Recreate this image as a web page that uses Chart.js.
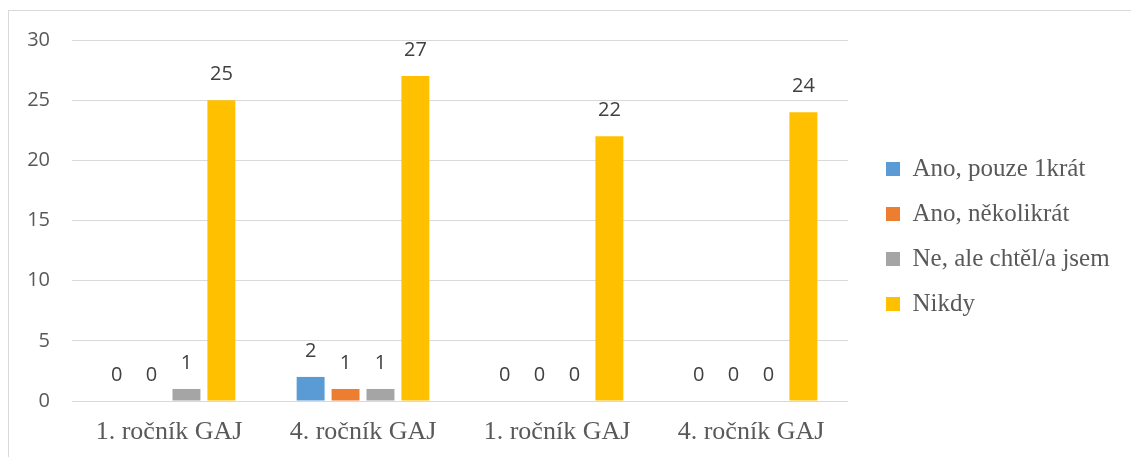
<!DOCTYPE html>
<html>
<head>
<meta charset="utf-8">
<script src="https://cdn.jsdelivr.net/npm/chart.js@4"></script>
<style>
  html, body { margin: 0; padding: 0; background: #fff; }
  #frame { position: absolute; left: 8px; top: 10px; width: 1140px; height: 470px; border: 1px solid #d9d9d9; box-sizing: border-box; }
  #wrap { position: absolute; left: 0; top: 0; width: 1131px; height: 457px; }
</style>
</head>
<body>
<div id="frame"></div>
<div id="wrap"><canvas id="c" width="1131" height="457"></canvas></div>
<script>
const categories = ['1. ročník GAJ', '4. ročník GAJ', '1. ročník GAJ', '4. ročník GAJ'];
const seriesNames = ['Ano, pouze 1krát', 'Ano, několikrát', 'Ne, ale chtěl/a jsem', 'Nikdy'];
const anoPouze1 = [0, 2, 0, 0];
const anoNekolikrat = [0, 1, 0, 0];
const neAleChtel = [1, 1, 0, 0];
const nikdy = [25, 27, 22, 24];
const yTicks = [0, 5, 10, 15, 20, 25, 30];
const colors = ['#5B9BD5', '#ED7D31', '#A5A5A5', '#FFC000'];

const seriesValues = [anoPouze1, anoNekolikrat, neAleChtel, nikdy];

const dataLabels = {
  id: 'dataLabels',
  afterDatasetsDraw(chart) {
    const ctx = chart.ctx;
    ctx.save();
    ctx.font = '20px "Open Sans"';
    ctx.fillStyle = '#404040';
    ctx.textAlign = 'center';
    ctx.textBaseline = 'middle';
    chart.data.datasets.forEach((ds, i) => {
      const meta = chart.getDatasetMeta(i);
      meta.data.forEach((el, j) => {
        ctx.fillText(String(ds.data[j]), el.x, el.y - 26);
      });
    });
    ctx.restore();
  }
};

const legendPlace = {
  id: 'legendPlace',
  afterInit(chart) {
    const lg = chart.legend;
    const f = lg.fit;
    lg.fit = function () { f.call(this); this.width = 283; };
  },
  afterLayout(chart) {
    const lg = chart.legend;
    lg.left = 866; lg.right = 1131;
    lg.top = 8; lg.bottom = 465;
  }
};

new Chart(document.getElementById('c'), {
  type: 'bar',
  data: {
    labels: categories,
    datasets: seriesValues.map((vals, i) => ({
      label: seriesNames[i],
      data: vals,
      backgroundColor: colors[i],
      borderWidth: 0,
      categoryPercentage: 0.72,
      barPercentage: 0.8
    }))
  },
  options: {
    responsive: false,
    animation: false,
    layout: { padding: { top: 40, left: 0, right: 0, bottom: 0 } },
    plugins: {
      tooltip: { enabled: false },
      legend: {
        position: 'right',
        align: 'center',
        labels: {
          boxWidth: 14,
          boxHeight: 14,
          padding: 20,
          color: '#595959',
          font: { family: '"Liberation Serif", "Times New Roman", serif', size: 25 }
        }
      }
    },
    scales: {
      x: {
        grid: { display: false },
        border: { display: false },
        ticks: {
          color: '#595959',
          padding: 8,
          font: { family: '"Liberation Serif", "Times New Roman", serif', size: 26 }
        },
        afterFit(s) { s.height = 56; }
      },
      y: {
        min: 0, max: 30,
        afterBuildTicks(s) { s.ticks = yTicks.map(v => ({ value: v })); },
        grid: { color: '#d9d9d9', lineWidth: 1, drawTicks: false },
        border: { display: false },
        ticks: {
          color: '#595959',
          padding: 22,
          font: { family: '"Open Sans"', size: 20 }
        },
        afterFit(s) { s.width = 72; }
      }
    }
  },
  plugins: [dataLabels, legendPlace]
});
</script>
</body>
</html>
